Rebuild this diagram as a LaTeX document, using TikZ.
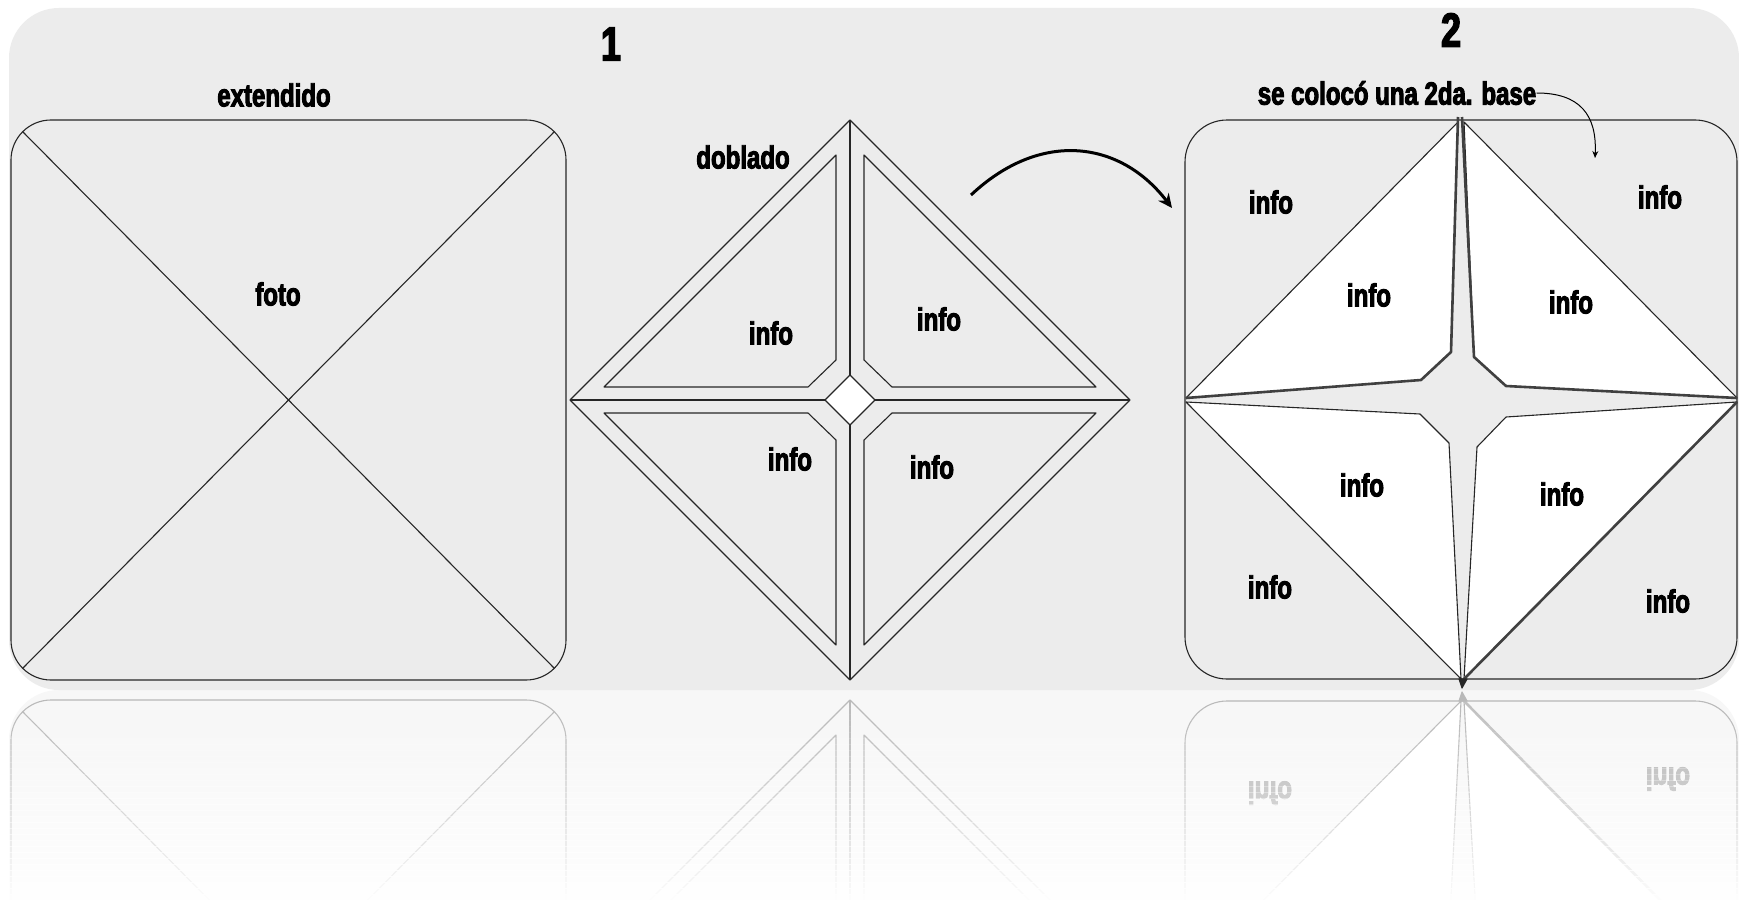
\documentclass[tikz,border=0pt]{standalone}
\usepackage{fontspec}
\usetikzlibrary{arrows.meta}
\newfontfamily\impfont[FakeStretch=0.75,FakeBold=3]{Liberation Sans Bold}
\definecolor{bggray}{HTML}{ECECEC}
\colorlet{lncol}{black!85}
\colorlet{txtcol}{black}
\colorlet{bgcol}{bggray}
\colorlet{quadcol}{white}
\colorlet{starcol}{black!75}
\tikzset{
  ln/.style={draw=lncol, line width=0.55pt, line join=round},
  heavy/.style={draw=starcol, line width=1.3pt, line join=round},
  midln/.style={draw=lncol, line width=0.9pt},
  lbl/.style={text=txtcol, inner sep=0pt, font={\impfont\fontsize{16}{18}\selectfont}},
  big/.style={text=txtcol, inner sep=0pt, font={\impfont\fontsize{24}{26}\selectfont}},
}
\newcommand\sceneshapes{%
  % background panel
  \fill[bgcol, rounded corners=25pt] (9,8) rectangle (1739,690);
  % ---------- square 1 (extendido) ----------
  \draw[ln, rounded corners=20pt] (11,120) rectangle (566,680);
  \draw[ln] (22.7,131.7) -- (554.3,668.3);
  \draw[ln] (554.3,131.7) -- (22.7,668.3);
  % ---------- diamond 2 (doblado) ----------
  \draw[ln] (850,120) -- (1130,400) -- (850,680) -- (570,400) -- cycle;
  \draw[midln] (850,120) -- (850,375);
  \draw[midln] (850,425) -- (850,680);
  \draw[midln] (570,400) -- (825,400);
  \draw[midln] (875,400) -- (1130,400);
  \filldraw[ln, fill=quadcol] (850,375) -- (875,400) -- (850,425) -- (825,400) -- cycle;
  \draw[ln] (836,155) -- (836,360) -- (808,387) -- (604,387) -- cycle;
  \draw[ln] (864,155) -- (864,360) -- (892,387) -- (1096,387) -- cycle;
  \draw[ln] (836,645) -- (836,440) -- (808,413) -- (604,413) -- cycle;
  \draw[ln] (864,645) -- (864,440) -- (892,413) -- (1096,413) -- cycle;
  % ---------- square 3 (2da. base) ----------
  \draw[ln, rounded corners=21pt] (1185,120) rectangle (1737,679);
  \filldraw[ln, fill=quadcol] (1458,122) -- (1451,352) -- (1421,380) -- (1186,398) -- cycle;
  \filldraw[ln, fill=quadcol] (1464,122) -- (1474,357) -- (1506,386) -- (1737,398) -- cycle;
  \filldraw[ln, fill=quadcol] (1186,402) -- (1420,414) -- (1449,443) -- (1461,679) -- cycle;
  \filldraw[ln, fill=quadcol] (1737,402) -- (1506,417) -- (1477,447) -- (1464,679) -- cycle;
  \draw[heavy] (1458,117) -- (1451,352) -- (1421,380) -- (1186,398);
  \draw[heavy] (1462,117) -- (1474,357) -- (1506,386) -- (1737,398);
  \draw[heavy] (1464,679) -- (1737,402);
  \filldraw[ln, fill=lncol] (1459,679) -- (1467,679) -- (1462,688) -- cycle;
}
\newcommand\lowlabels{%
  \node[lbl] (c3) at (1270,587) {info};
  \node[lbl] (c4) at (1668,601) {info};
}
\begin{document}
\begin{tikzpicture}[x=0.5pt,y=-0.5pt]
\useasboundingbox (0,0) rectangle (1739,904);
\fill[white] (0,0) rectangle (1739,904);
% ---------- reflection ----------
\begin{scope}
  \clip (0,690) rectangle (1739,904);
  \begin{scope}[shift={(0,1380)}, yscale=-1, transform shape]
    \colorlet{lncol}{black!28}
    \colorlet{starcol}{black!25}
    \colorlet{txtcol}{black!30}
    \colorlet{bgcol}{black!3}
    \sceneshapes
    \lowlabels
  \end{scope}
\end{scope}
\foreach \i in {0,...,35} {
  \pgfmathsetmacro\op{min(1,((\i+1)/36)^1.4)}
  \fill[white, fill opacity=\op] (0,{690+\i*6}) rectangle (1739,{696.5+\i*6});
}
% ---------- main picture ----------
\sceneshapes
\lowlabels
\node[lbl] (foto) at (278,294) {foto};
\node[lbl] (d1) at (771,333) {info};
\node[lbl] (d2) at (939,319) {info};
\node[lbl] (d3) at (790,459) {info};
\node[lbl] (d4) at (932,467) {info};
\node[lbl] (c1) at (1271,202) {info};
\node[lbl] (c2) at (1660,197) {info};
\node[lbl] (q1) at (1369,295) {info};
\node[lbl] (q2) at (1571,302) {info};
\node[lbl] (q3) at (1362,485) {info};
\node[lbl] (q4) at (1562,494) {info};
\node[lbl] (ext) at (274,95) {extendido};
\node[lbl] (dob) at (743,157) {doblado};
\node[big] (n1) at (611,44) {1};
\node[big] (n2) at (1451,30) {2};
\node[lbl] (base) at (1397,93) {se colocó una 2da. base};
% curved arrow from step 1 to step 2
\coordinate (a1s) at (971,195);
\coordinate (a1e) at (1172,208);
\draw[line width=1.5pt, -{Stealth[length=7pt,width=6.5pt]}] (a1s) .. controls (1040,130) and (1120,140) .. (a1e);
% thin arrow from label
\coordinate (a2e) at (1595,158);
\draw[line width=0.5pt, -{Stealth[length=3.5pt,width=3pt]}] (base.east) .. controls (1580,93) and (1597,115) .. (a2e);
\end{tikzpicture}
\end{document}
